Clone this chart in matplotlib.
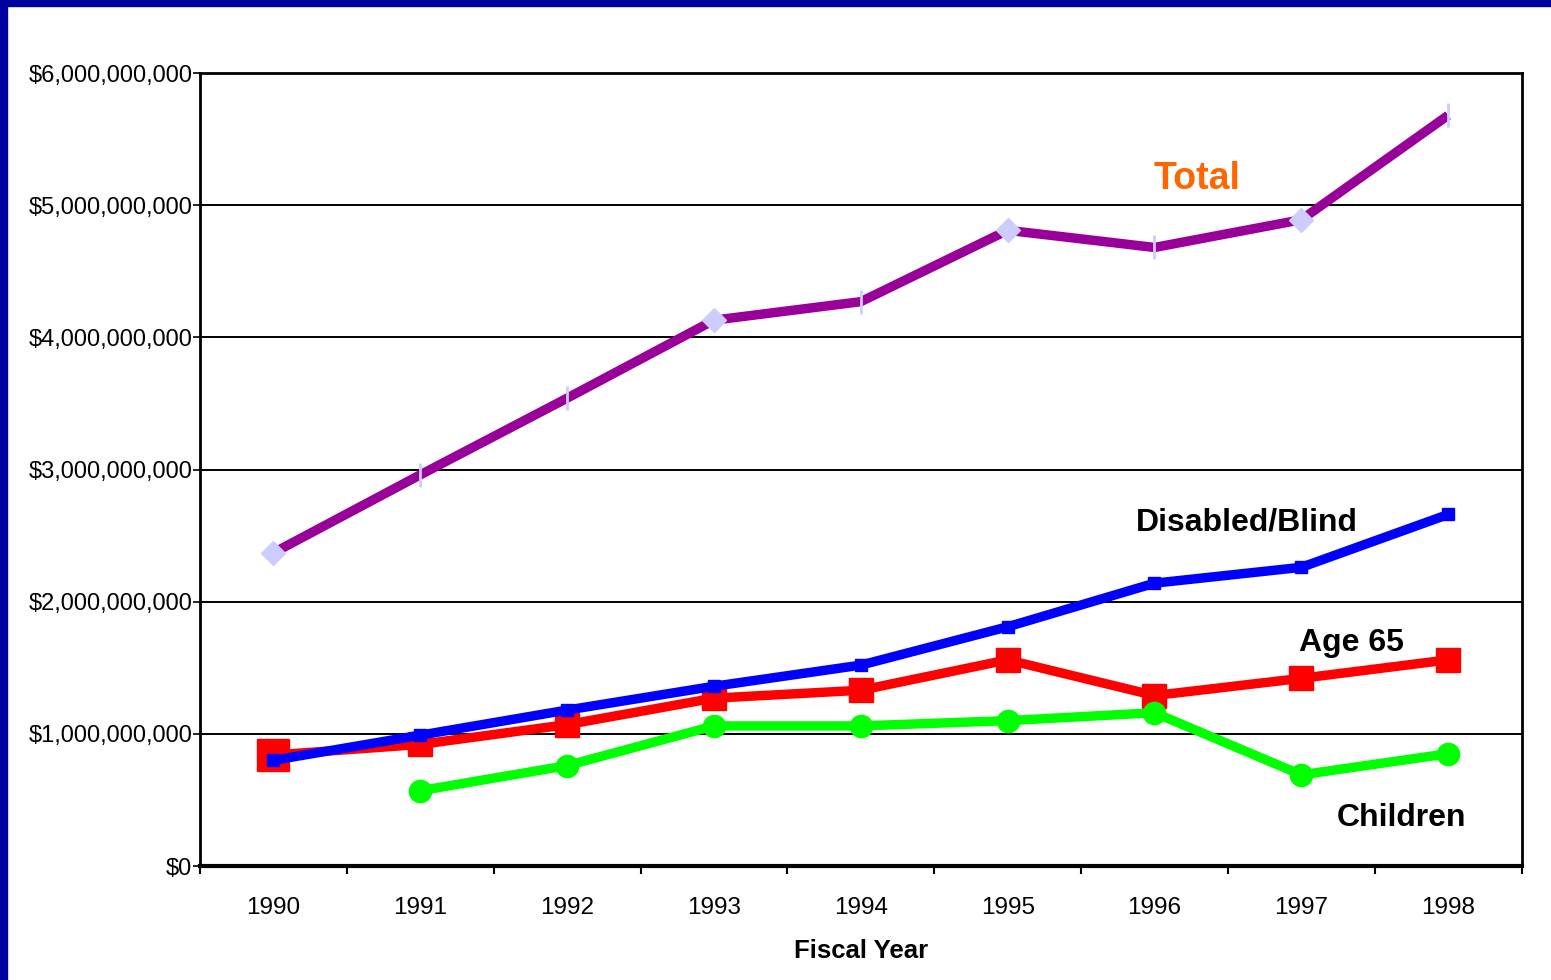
import matplotlib
matplotlib.use("Agg")
import matplotlib.pyplot as plt
from matplotlib.patches import Rectangle

years = [1990, 1991, 1992, 1993, 1994, 1995, 1996, 1997, 1998]
total = [2.37e9, 2.96e9, 3.54e9, 4.13e9, 4.27e9, 4.81e9, 4.68e9, 4.89e9, 5.68e9]
disabled_blind = [0.80e9, 0.99e9, 1.18e9, 1.36e9, 1.52e9, 1.81e9, 2.14e9, 2.26e9, 2.66e9]
age65 = [0.84e9, 0.92e9, 1.07e9, 1.27e9, 1.33e9, 1.56e9, 1.29e9, 1.42e9, 1.56e9]
children_years = [1991, 1992, 1993, 1994, 1995, 1996, 1997, 1998]
children = [0.57e9, 0.76e9, 1.06e9, 1.06e9, 1.10e9, 1.16e9, 0.69e9, 0.85e9]
y_ticks = [0, 1e9, 2e9, 3e9, 4e9, 5e9, 6e9]
y_tick_labels = ["$0", "$1,000,000,000", "$2,000,000,000", "$3,000,000,000",
                 "$4,000,000,000", "$5,000,000,000", "$6,000,000,000"]

plt.rcParams['font.family'] = ['Liberation Sans', 'DejaVu Sans']

fig = plt.figure(figsize=(15.51, 9.8), dpi=100)
fig.patch.set_facecolor("white")
# dark blue frame on top and left
fig.add_artist(Rectangle((0, 0.994), 1, 0.006, transform=fig.transFigure, color="#0000A0", zorder=10))
fig.add_artist(Rectangle((0, 0), 0.0045, 1, transform=fig.transFigure, color="#0000A0", zorder=10))

ax = fig.add_axes([0.129, 0.1163, 0.852, 0.8092])
ax.set_xlim(1989.5, 1998.5)
ax.set_ylim(0, 6e9)

for v in y_ticks[1:-1]:
    ax.axhline(v, color="black", lw=1.4, zorder=1)

LW = 6.8
# Total
ax.plot(years, total, color="#990099", lw=LW, zorder=3, solid_capstyle="butt")
diamond_idx = [0, 3, 5, 7]
bar_idx = [1, 2, 4, 6, 8]
ax.plot([years[i] for i in diamond_idx], [total[i] for i in diamond_idx], ls="none",
        marker="D", ms=12, color="#CCCCFF", zorder=4)
ax.plot([years[i] for i in bar_idx], [total[i] for i in bar_idx], ls="none",
        marker="|", ms=17, mew=2, color="#CCCCFF", zorder=4)

# Age 65
ax.plot(years, age65, color="#FF0000", lw=LW, marker="s", ms=17, zorder=3)
ax.plot([years[0]], [age65[0]], ls="none", marker="s", ms=23, color="#FF0000", zorder=3)

# Disabled/Blind
ax.plot(years, disabled_blind, color="#0000FF", lw=LW, marker="s", ms=8, zorder=4)

# Children
ax.plot(children_years, children, color="#00FF00", lw=LW, marker="o", ms=16, zorder=3)

ax.text(1996.29, 5.2e9, "Total", color="#FF6600", fontsize=27, fontweight="bold", ha="center", va="center")
ax.text(1996.63, 2.6e9, "Disabled/Blind", color="black", fontsize=23, fontweight="bold", ha="center", va="center")
ax.text(1997.34, 1.69e9, "Age 65", color="black", fontsize=23, fontweight="bold", ha="center", va="center")
ax.text(1997.68, 0.36e9, "Children", color="black", fontsize=23, fontweight="bold", ha="center", va="center")

ax.set_yticks(y_ticks)
ax.set_yticklabels(y_tick_labels, fontsize=17)
ax.set_xticks(years)
ax.set_xticklabels([str(y) for y in years], fontsize=17.5)
ax.set_xticks([y + 0.5 for y in years[:-1]] + [1989.5, 1998.5], minor=True)
ax.tick_params(axis="x", which="major", length=0, pad=22)
ax.tick_params(axis="x", which="minor", length=6, width=1.5, direction="out")
ax.tick_params(axis="y", which="major", length=5, width=1.2, direction="out", pad=0.5)

for s in ["left", "right", "top"]:
    ax.spines[s].set_linewidth(2)
ax.spines["bottom"].set_linewidth(3)

ax.set_xlabel("Fiscal Year", fontsize=18.5, fontweight="bold", labelpad=15)

fig.savefig("out.png", dpi=100)
